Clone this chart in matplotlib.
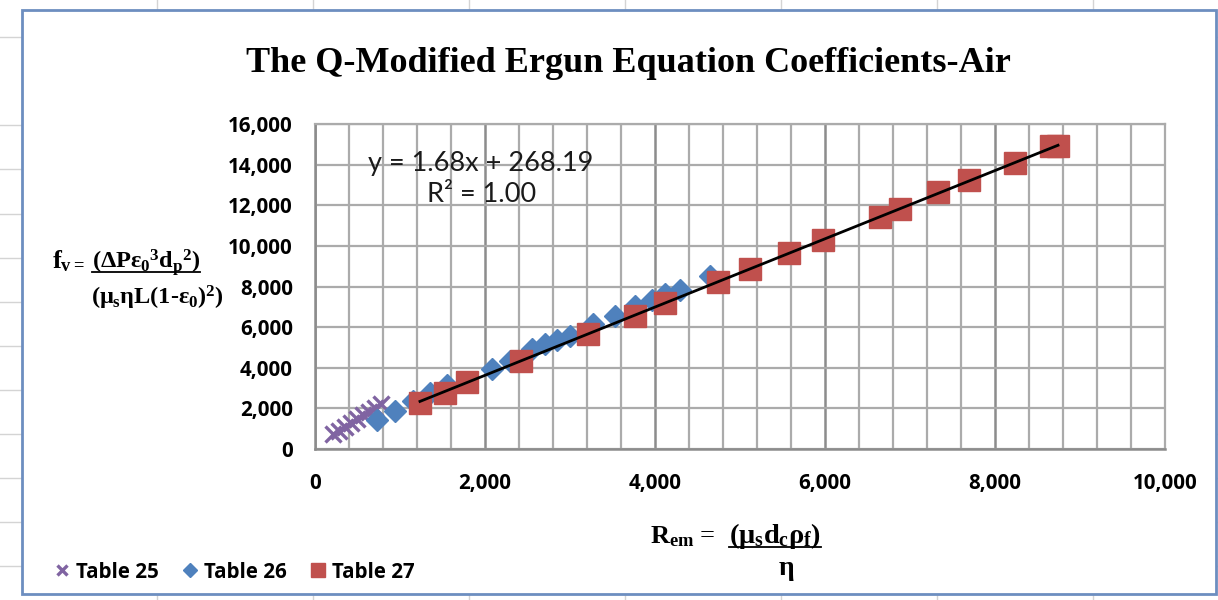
import matplotlib
matplotlib.use("Agg")
import matplotlib.pyplot as plt
from matplotlib.lines import Line2D
from matplotlib.patches import Rectangle
from matplotlib.font_manager import FontProperties
import numpy as np

# ---------------- data ----------------
t25_x = [212, 282, 353, 423, 494, 565, 635, 706, 776]
t25_y = [738, 886, 1083, 1280, 1477, 1674, 1821, 2018, 2215]

t26_x = [729, 941, 1153, 1353, 1553, 2082, 2294, 2553, 2706, 2847, 2999,
         3271, 3529, 3765, 3965, 4118, 4294, 4647]
t26_y = [1428, 1871, 2363, 2757, 3151, 3938, 4332, 4923, 5169, 5366, 5563,
         6154, 6548, 7040, 7335, 7631, 7828, 8517]

t27_x = [1235, 1529, 1788, 2424, 3212, 3765, 4118, 4741, 5118, 5576, 5976,
         6647, 6882, 7329, 7694, 8235, 8659, 8741]
t27_y = [2265, 2757, 3298, 4332, 5662, 6547, 7188, 8221, 8862, 9649, 10289,
         11422, 11815, 12652, 13243, 14080, 14917, 14917]

fit_slope = 1.68
fit_intercept = 268.19
eq_text = "y = 1.68x + 268.19"
r2_text = "R² = 1.00"

series_names = ["Table 25", "Table 26", "Table 27"]
title = "The Q-Modified Ergun Equation Coefficients-Air"
x_ticks = [0, 2000, 4000, 6000, 8000, 10000]
y_ticks = [0, 2000, 4000, 6000, 8000, 10000, 12000, 14000, 16000]

PURPLE = "#8064A2"
BLUE = "#4F81BD"
RED = "#C0504D"

plt.rcParams['mathtext.fontset'] = 'custom'
plt.rcParams['mathtext.rm'] = 'Liberation Serif:bold'
plt.rcParams['mathtext.it'] = 'Liberation Serif:bold'
plt.rcParams['mathtext.bf'] = 'Liberation Serif:bold'

W, H = 1218, 600
fig = plt.figure(figsize=(W / 100, H / 100), dpi=100)
fig.patch.set_facecolor("white")

def fx(px):
    return px / W

def fy(py):
    return 1 - py / H

SANS_B = FontProperties(family="Open Sans", weight="bold", size=14.8)

# spreadsheet cell lines behind the chart
for cx in [157, 313, 469, 625, 781, 937, 1093]:
    fig.add_artist(Line2D([fx(cx), fx(cx)], [0, 1], color="#D4D4D4", lw=1, zorder=0))
for ry in [37, 125, 169, 214, 258, 302, 346, 390, 434, 478, 522, 566]:
    fig.add_artist(Line2D([0, 1], [fy(ry), fy(ry)], color="#D4D4D4", lw=1, zorder=0))

# chart frame
fig.add_artist(Rectangle((fx(22), fy(594)), fx(1216) - fx(22), fy(10) - fy(594),
                         facecolor="white", edgecolor="#6D8EC0", lw=2, zorder=0.5))

ax = fig.add_axes([fx(315), fy(449), fx(1165) - fx(315), fy(124) - fy(449)])
ax.set_zorder(1)
ax.set_facecolor("white")
ax.set_xlim(0, 10000)
ax.set_ylim(0, 16000)
ax.set_xticks(x_ticks)
ax.set_yticks(y_ticks)
ax.set_xticks(np.arange(0, 10001, 400), minor=True)
ax.tick_params(which="both", length=0)
ax.tick_params(axis="x", pad=17)
ax.tick_params(axis="y", pad=16)
ax.xaxis.set_major_formatter(matplotlib.ticker.FuncFormatter(lambda v, p: f"{int(v):,}"))
ax.yaxis.set_major_formatter(matplotlib.ticker.FuncFormatter(lambda v, p: f"{int(v):,}"))
for lab in ax.get_xticklabels() + ax.get_yticklabels():
    lab.set_fontproperties(SANS_B)
ax.grid(which="minor", axis="x", color="#ABABAB", lw=1.6)
ax.grid(which="major", axis="x", color="#8C8C8C", lw=1.8)
ax.grid(which="major", axis="y", color="#ABABAB", lw=1.6)
ax.set_axisbelow(True)
for s in ["top", "right"]:
    ax.spines[s].set_color("#ABABAB")
    ax.spines[s].set_linewidth(1.6)
for s in ["left", "bottom"]:
    ax.spines[s].set_color("#8C8C8C")
    ax.spines[s].set_linewidth(1.8)

h25, = ax.plot(t25_x, t25_y, ls="none", marker="x", ms=12, mew=2.4, color=PURPLE,
               label=series_names[0], zorder=3)
h26, = ax.plot(t26_x, t26_y, ls="none", marker="D", ms=11.5, color=BLUE, mec=BLUE,
               label=series_names[1], zorder=4)
h27, = ax.plot(t27_x, t27_y, ls="none", marker="s", ms=16, color=RED, mec=RED,
               label=series_names[2], zorder=5)

fit_x = np.array([min(t27_x), max(t27_x)])
ax.plot(fit_x, fit_slope * fit_x + fit_intercept, color="black", lw=2, zorder=6)

fig.text(fx(481), fy(163), eq_text, fontfamily="Lato", fontsize=19.5,
         ha="center", va="center", color="#1a1a1a", zorder=10)
fig.text(fx(482), fy(195), r2_text, fontfamily="Lato", fontsize=19.5,
         ha="center", va="center", color="#1a1a1a", zorder=10)

fig.text(fx(628), fy(63), title, fontfamily="Liberation Serif", fontweight="bold",
         fontsize=26, ha="center", va="center")

leg = fig.legend(handles=[h25, h26, h27], loc="center left",
                 bbox_to_anchor=(fx(35), fy(572)), ncol=3, frameon=False,
                 markerscale=0.6, handlelength=0.8, handletextpad=0.3,
                 columnspacing=1.1, prop=SANS_B)

# y-axis label (fraction)
t_f = fig.text(fx(52), fy(268), r"$f_{v=}$", fontsize=19, ha="left", va="baseline")
t_num = fig.text(fx(92), fy(268), r"$(\Delta P\varepsilon_0{}^3d_p{}^2)$", fontsize=17.5,
                 ha="left", va="baseline")
t_den = fig.text(fx(91), fy(304), r"$(\mu_s\eta L(1\text{-}\varepsilon_0)^2)$", fontsize=17.5,
                 ha="left", va="baseline")

# x-axis label
t_r = fig.text(fx(650), fy(543), r"$R_{em}$ =", fontsize=19, fontfamily="Liberation Serif",
               ha="left", va="baseline")
t_xn = fig.text(fx(729), fy(543), r"$(\mu_s d_c\rho_f)$", fontsize=20.5, ha="left", va="baseline")
t_eta = fig.text(fx(786), fy(575), r"$\eta$", fontsize=20, ha="center", va="baseline")

fig.canvas.draw()
r = fig.canvas.get_renderer()
for t, yline in [(t_num, 272), (t_xn, 547)]:
    bb = t.get_window_extent(r)
    fig.add_artist(Line2D([bb.x0 / W, bb.x1 / W], [fy(yline), fy(yline)],
                          color="black", lw=1.3))

fig.savefig("out.png", dpi=100)
